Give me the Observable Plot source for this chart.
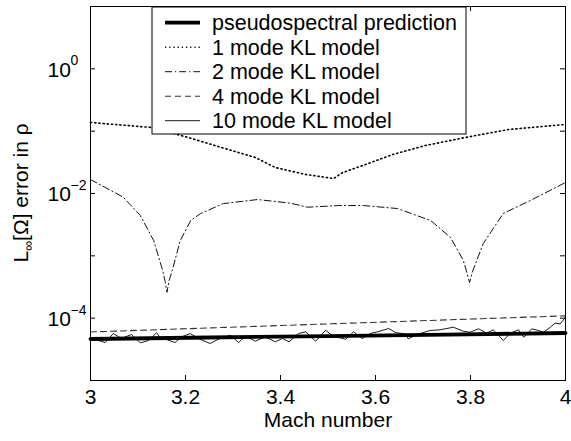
<!DOCTYPE html>
<html><head><meta charset="utf-8">
<script src="https://cdn.jsdelivr.net/npm/d3@7"></script>
<script src="https://cdn.jsdelivr.net/npm/@observablehq/plot@0.6"></script>
<style>html,body{margin:0;padding:0;background:#fff} svg{display:block}</style>
</head><body><div id="chart"></div>
<script>
// ---- data ----
const seriesNames = ["pseudospectral prediction", "1 mode KL model", "2 mode KL model", "4 mode KL model", "10 mode KL model"];

const machPseudo = [3.0, 3.25, 3.5, 3.75, 4.0];
const errPseudo  = [4.63e-5, 4.9e-5, 5.17e-5, 5.45e-5, 5.78e-5];

const machKL1 = [3.000, 3.128, 3.206, 3.276, 3.347, 3.389, 3.453, 3.512, 3.531, 3.579, 3.636, 3.705, 3.789, 3.880, 4.000];
const errKL1  = [0.138, 0.1146, 0.0791, 0.0547, 0.0378, 0.0261, 0.0202, 0.0174, 0.0217, 0.0292, 0.0422, 0.0589, 0.0791, 0.1064, 0.128];

const machKL2 = [3.000, 3.069, 3.105, 3.133, 3.152, 3.157, 3.161, 3.165, 3.172, 3.189, 3.211, 3.232, 3.280, 3.352, 3.421, 3.457, 3.522, 3.575, 3.646, 3.716, 3.758, 3.785, 3.792, 3.798, 3.804, 3.813, 3.827, 3.869, 3.926, 4.000];
const errKL2  = [0.01675, 0.00873, 0.00443, 0.00176, 5.8e-4, 3.9e-4, 2.6e-4, 3.9e-4, 5.8e-4, 1.76e-3, 3.69e-3, 4.78e-3, 6.9e-3, 8.0e-3, 6.99e-3, 6.03e-3, 6.41e-3, 6.41e-3, 5.74e-3, 3.69e-3, 1.97e-3, 8.4e-4, 5.5e-4, 3.73e-4, 5.5e-4, 8.4e-4, 1.58e-3, 4.78e-3, 7.73e-3, 0.015];

const machKL4 = [3.0, 3.25, 3.5, 3.75, 4.0];
const errKL4  = [6.0e-5, 6.97e-5, 8.09e-5, 9.39e-5, 1.09e-4];

const machKL10 = [3.000, 3.031, 3.048, 3.065, 3.086, 3.105, 3.122, 3.139, 3.147, 3.178, 3.192, 3.210, 3.227, 3.252, 3.269, 3.294, 3.312, 3.326, 3.347, 3.368, 3.389, 3.404, 3.418, 3.438, 3.453, 3.474, 3.495, 3.509, 3.537, 3.554, 3.572, 3.589, 3.604, 3.628, 3.642, 3.663, 3.669, 3.687, 3.715, 3.736, 3.764, 3.785, 3.799, 3.817, 3.834, 3.848, 3.869, 3.884, 3.901, 3.912, 3.929, 3.943, 3.954, 3.968, 3.978, 3.989, 4.000];
const errKL10  = [4.80e-5, 4.07e-5, 5.67e-5, 4.72e-5, 5.47e-5, 4.02e-5, 4.38e-5, 5.82e-5, 4.89e-5, 4.07e-5, 5.02e-5, 5.67e-5, 4.72e-5, 3.92e-5, 4.59e-5, 5.33e-5, 4.07e-5, 5.20e-5, 4.27e-5, 5.02e-5, 4.18e-5, 4.72e-5, 4.18e-5, 5.67e-5, 6.04e-5, 4.27e-5, 6.40e-5, 5.21e-5, 4.59e-5, 6.04e-5, 4.72e-5, 5.67e-5, 6.04e-5, 6.82e-5, 5.89e-5, 5.57e-5, 4.66e-5, 5.47e-5, 6.34e-5, 6.50e-5, 7.16e-5, 6.17e-5, 5.95e-5, 6.75e-5, 5.74e-5, 6.50e-5, 4.38e-5, 5.74e-5, 6.50e-5, 4.95e-5, 6.75e-5, 6.34e-5, 5.95e-5, 7.16e-5, 8.30e-5, 8.11e-5, 1.035e-4];

const xTickLabels = [3, 3.2, 3.4, 3.6, 3.8, 4];
const xTickMarks  = [3.2, 3.4, 3.6, 3.8];
const yTickMarks  = [1, 1e-1, 1e-2, 1e-3, 1e-4];
const yTickLabels = [1, 1e-2, 1e-4];
const yTickExp    = ["0", "\u22122", "\u22124"];
const xLabel = "Mach number";

// ---- styles ----
const styles = [
  {stroke: "#000", strokeWidth: 3.8},
  {stroke: "#000", strokeWidth: 1.6, strokeDasharray: "1.2 3"},
  {stroke: "#111", strokeWidth: 1, strokeDasharray: "7 3 1.2 3"},
  {stroke: "#333", strokeWidth: 1.1, strokeDasharray: "6 4"},
  {stroke: "#000", strokeWidth: 0.9}
];

const zip = (xs, ys) => xs.map((x, i) => ({x, y: ys[i]}));
const sets = [
  zip(machPseudo, errPseudo),
  zip(machKL1, errKL1),
  zip(machKL2, errKL2),
  zip(machKL4, errKL4),
  zip(machKL10, errKL10)
];

const W = 571, H = 441, mL = 90, mR = 6, mT = 6, mB = 61;
const fw = W - mL - mR, fh = H - mT - mB, tk = 5;
const font = "'Liberation Sans', Arial, Helvetica, sans-serif";

const lineMarks = [4, 3, 2, 1, 0].map(i => Plot.line(sets[i], {x: "x", y: "y", ...styles[i]}));

const plot = Plot.plot({
  width: W, height: H,
  marginLeft: mL, marginRight: mR, marginTop: mT, marginBottom: mB,
  style: {fontFamily: font, fontSize: "21px", background: "#fff", color: "#000"},
  x: {domain: [3, 4], label: null},
  y: {type: "log", domain: [1e-5, 10], label: null},
  marks: [
    ...lineMarks,
    Plot.tickX(xTickMarks, {x: d => d, insetTop: fh - tk, stroke: "#000"}),
    Plot.tickX(xTickMarks, {x: d => d, insetBottom: fh - tk, stroke: "#000"}),
    Plot.tickY(yTickMarks, {y: d => d, insetRight: fw - tk, stroke: "#000"}),
    Plot.tickY(yTickMarks, {y: d => d, insetLeft: fw - tk, stroke: "#000"}),
    Plot.frame({stroke: "#000", strokeWidth: 1}),
    Plot.axisX(xTickLabels, {tickSize: 0, tickPadding: 9, tickFormat: d => String(d), fontSize: 21}),
    Plot.axisY({ticks: [], tickSize: 0}),
    Plot.text(yTickLabels, {y: d => d, text: () => "10", frameAnchor: "left", dx: -43, textAnchor: "start", fontSize: 21, dy: 1}),
    Plot.text(yTickLabels, {y: d => d, text: (d, i) => yTickExp[i], frameAnchor: "left", dx: -20, dy: -8, textAnchor: "start", fontSize: 14}),
    Plot.text([xLabel], {frameAnchor: "bottom", dy: 40, lineAnchor: "middle", text: d => d, fontSize: 21})
  ]
});

// y-axis title with subscript
const svg = d3.select(plot);
const yl = svg.append("text")
  .attr("transform", `translate(28,${mT + fh / 2}) rotate(-90)`)
  .attr("text-anchor", "middle")
  .attr("font-family", font)
  .attr("font-size", 21)
  .attr("fill", "#000");
yl.append("tspan").text("L");
yl.append("tspan").attr("font-size", 14).attr("dy", 5).text("\u221E");
yl.append("tspan").attr("dy", -5).text("[\u03A9] error in \u03C1");

// legend
const lg = svg.append("g");
const lx = 152, ly = 7, lw = 314, lh = 127, rowH = 24.5, row0 = 22.7;
lg.append("rect").attr("x", lx).attr("y", ly).attr("width", lw).attr("height", lh)
  .attr("fill", "#fff").attr("stroke", "#000").attr("stroke-width", 1);
seriesNames.forEach((name, i) => {
  const y = row0 + i * rowH;
  const s = styles[i];
  lg.append("line").attr("x1", 165).attr("x2", 200).attr("y1", y).attr("y2", y)
    .attr("stroke", s.stroke).attr("stroke-width", s.strokeWidth)
    .attr("stroke-dasharray", s.strokeDasharray || null);
  lg.append("text").attr("x", 212).attr("y", y).attr("dy", "0.35em")
    .attr("text-anchor", "start")
    .attr("font-family", font).attr("font-size", 21.5).attr("fill", "#000").text(name);
});

document.getElementById("chart").appendChild(plot);
</script>
</body></html>
